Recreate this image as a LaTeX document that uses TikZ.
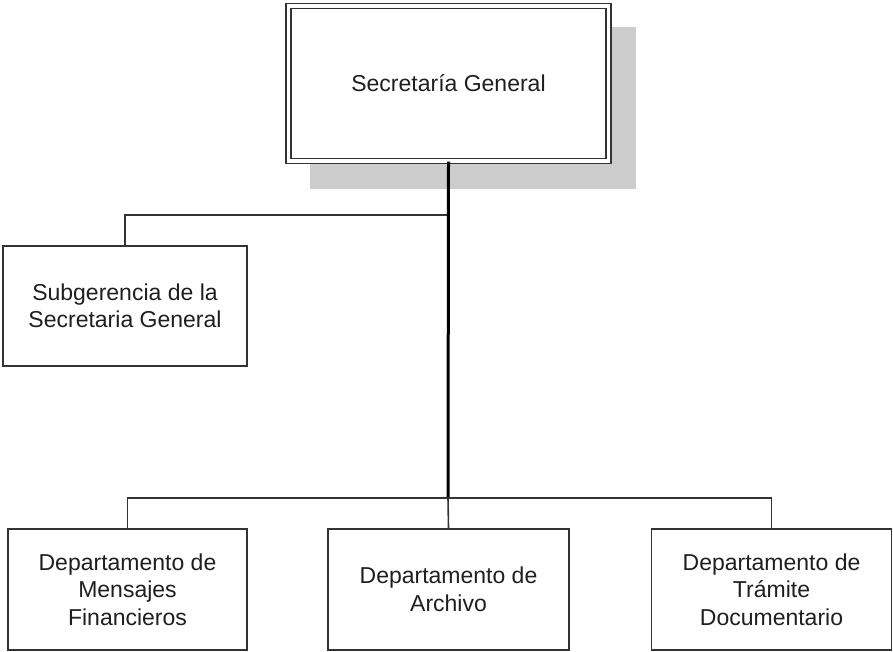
\documentclass[tikz,border=0pt]{standalone}
\usepackage{fontspec}
\setmainfont{Liberation Sans}
\begin{document}
\begin{tikzpicture}[x=1pt,y=-1pt,
  every node/.style={font=\fontsize{23}{27.5}\selectfont, text=black!88, align=center, inner sep=0pt},
  unit/.style={draw=black!80, line width=1.5pt, fill=white, rectangle, minimum width=#1, minimum height=121pt},
  topunit/.style={draw=black!80, line width=1.4pt, double=white, double distance=3.4pt, fill=white, rectangle, minimum width=320pt, minimum height=155pt},
  mainline/.style={line width=3pt, black},
  branch/.style={line width=1.6pt, black!80},
  shadowfill/.style={fill=black!20}]
\useasboundingbox (0,0) rectangle (893,652);
\fill[shadowfill] (310,27) rectangle (636,189);
\node[topunit] (top) at (448.5,83.5) {Secretaría General};
\node[unit=244pt, minimum height=120pt] (sub) at (125,306) {Subgerencia de la\\Secretaria General};
\node[unit=239pt] (d1) at (127.5,589.5) {Departamento de\\Mensajes\\Financieros};
\node[unit=241pt] (d2) at (448.5,589.5) {Departamento de\\Archivo};
\node[unit=240pt] (d3) at (771.5,589.5) {Departamento de\\Trámite\\Documentario};
\coordinate (jl) at (448,215);
\coordinate (jb) at (448,498);
\draw[branch] (jl) -| (sub.north);
\draw[branch] (jb) -| (d1.north);
\draw[branch] (jb) -- (d2.north);
\draw[branch] (jb) -| (d3.north);
\draw[mainline] (top.south) -- ([yshift=0.8pt]jb);
\end{tikzpicture}
\end{document}
